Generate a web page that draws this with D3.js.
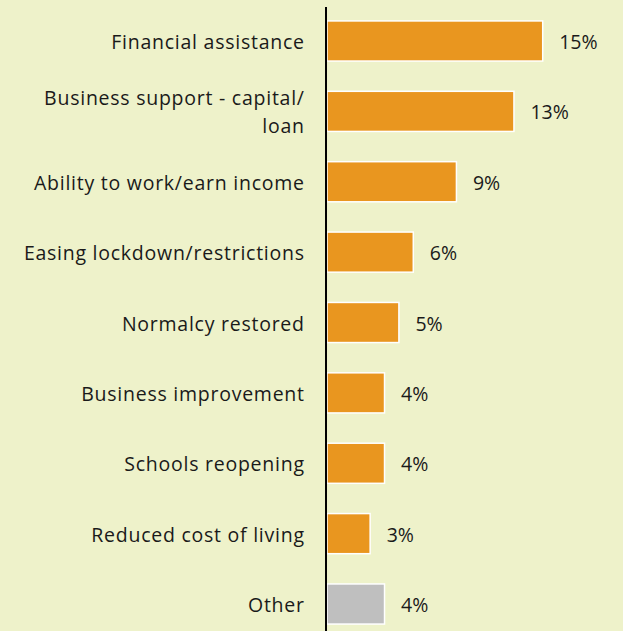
<!DOCTYPE html>
<html>
<head>
<meta charset="utf-8">
<script src="https://cdn.jsdelivr.net/npm/d3@7"></script>
<style>
  html, body { margin: 0; padding: 0; background: #EEF2CA; }
  svg { display: block; }
  text { font-family: "Open Sans", Lato, sans-serif; fill: #1a1a1a; }
</style>
</head>
<body>
<svg id="chart" width="623" height="631"></svg>
<script>
// Reasons / factors and their share of responses (%)
const categories = [
  "Financial assistance",
  "Business support - capital/\nloan",
  "Ability to work/earn income",
  "Easing lockdown/restrictions",
  "Normalcy restored",
  "Business improvement",
  "Schools reopening",
  "Reduced cost of living",
  "Other"
];
const values = [15, 13, 9, 6, 5, 4, 4, 3, 4];
const barColors = ["#E9961F", "#E9961F", "#E9961F", "#E9961F", "#E9961F", "#E9961F", "#E9961F", "#E9961F", "#BFBFBF"];

const W = 623, H = 631;
const axisX = 326;
const fontSize = 19.5;
const tracking = 0.75;
const svg = d3.select("#chart");

const data = categories.map((c, i) => ({ cat: c, value: values[i], color: barColors[i] }));

const x = d3.scaleLinear().domain([0, 15]).range([axisX + 1, axisX + 1 + 215.7]);
const y = d3.scaleBand()
  .domain(categories)
  .range([5.8, 639.2])
  .paddingInner(0.43)
  .paddingOuter(0.215);

svg.append("rect").attr("width", W).attr("height", H).attr("fill", "#EEF2CA");

// bars
svg.selectAll("rect.bar")
  .data(data)
  .join("rect")
  .attr("class", "bar")
  .attr("x", x(0))
  .attr("y", d => y(d.cat))
  .attr("width", d => x(d.value) - x(0))
  .attr("height", y.bandwidth())
  .attr("fill", d => d.color)
  .attr("stroke", "#ffffff")
  .attr("stroke-width", 1.5);

// value labels
svg.selectAll("text.val")
  .data(data)
  .join("text")
  .attr("class", "val")
  .attr("x", d => x(d.value) + 16.5)
  .attr("y", d => y(d.cat) + y.bandwidth() / 2 + 1)
  .attr("dy", "0.36em")
  .attr("font-size", fontSize)
  .text(d => d.value + "%");

// category labels (right aligned, may wrap onto two lines)
const lineGap = 28;
const labels = svg.selectAll("text.cat")
  .data(data)
  .join("text")
  .attr("class", "cat")
  .attr("text-anchor", "end")
  .attr("letter-spacing", tracking)
  .attr("font-size", fontSize);
labels.each(function(d) {
  const lines = d.cat.split("\n");
  const cy = y(d.cat) + y.bandwidth() / 2 + 1;
  const start = cy - (lines.length - 1) * lineGap / 2;
  d3.select(this).selectAll("tspan")
    .data(lines)
    .join("tspan")
    .attr("x", 304 + tracking)
    .attr("y", (l, i) => start + i * lineGap)
    .attr("dy", "0.36em")
    .text(l => l);
});

// vertical axis line
svg.append("line")
  .attr("x1", axisX).attr("x2", axisX)
  .attr("y1", 7).attr("y2", H)
  .attr("stroke", "#000")
  .attr("stroke-width", 2);
</script>
</body>
</html>
